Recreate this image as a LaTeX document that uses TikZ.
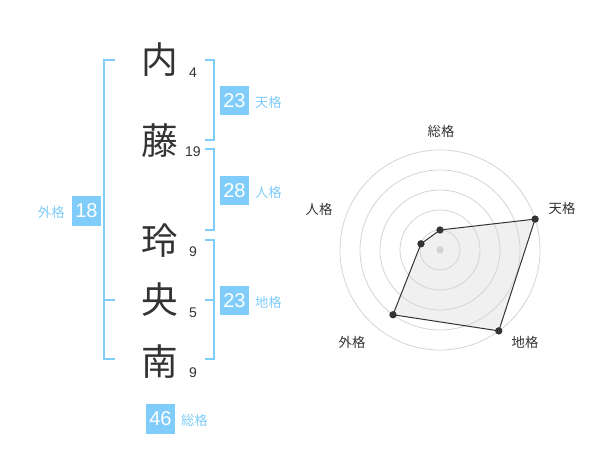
\documentclass[tikz,border=0pt]{standalone}
\usepackage{fontspec}
\setmainfont{Liberation Sans}
\newfontfamily\jp{Noto Sans CJK JP}
\usetikzlibrary{positioning}
\definecolor{kakublue}{RGB}{128,204,250}
\definecolor{inkgray}{RGB}{51,51,51}
\definecolor{ringgray}{RGB}{212,212,212}
\definecolor{areagray}{RGB}{240,240,240}

\begin{document}
\begin{tikzpicture}[x=0.75pt, y=-0.75pt]
    % Define styles
    \tikzstyle{kanji} = [font=\jp\fontsize{27.5}{27.5}\selectfont, text=inkgray, inner sep=0pt]
    \tikzstyle{kakusu} = [font=\fontsize{10.5}{10.5}\selectfont, text=inkgray, inner sep=0pt]
    \tikzstyle{kakubox} = [fill=kakublue, text=white, font=\fontsize{15}{15}\selectfont, minimum width=22pt, minimum height=22pt, inner sep=0pt]
    \tikzstyle{kakulabel} = [font=\jp\fontsize{10}{10}\selectfont, text=kakublue, inner sep=0pt]
    \tikzstyle{bracket} = [draw=kakublue, line width=1.5pt]
    \tikzstyle{ring} = [draw=ringgray, line width=0.6pt]
    \tikzstyle{axislabel} = [font=\jp\fontsize{10}{10}\selectfont, text=inkgray, inner sep=0pt]
    \tikzstyle{dot} = [circle, fill=inkgray, inner sep=0pt, minimum size=5.5pt]

    \useasboundingbox (0,0) rectangle (600,470);

    % Name characters and stroke counts
    \node [kanji] (nai) at (160,60) {内};
    \node [kanji] (fuji) at (160,141) {藤};
    \node [kanji] (rei) at (160,241) {玲};
    \node [kanji] (oh) at (160,300) {央};
    \node [kanji] (nan) at (160,362) {南};

    \node [kakusu] (nainum) at (193,73) {4};
    \node [kakusu] (fujinum) at (193,152) {19};
    \node [kakusu] (reinum) at (193,252) {9};
    \node [kakusu] (ohnum) at (193,313) {5};
    \node [kakusu] (nannum) at (193,373) {9};

    % Brackets
    \draw [bracket] (115,60) -- (104,60) -- (104,359) -- (115,359);
    \draw [bracket] (104,300) -- (115,300);
    \draw [bracket] (205,60) -- (214,60) -- (214,140) -- (205,140);
    \draw [bracket] (205,149) -- (214,149) -- (214,230) -- (205,230);
    \draw [bracket] (205,240) -- (214,240) -- (214,359) -- (205,359);
    \draw [bracket] (214,300) -- (205,300);

    % Score boxes
    \node [kakubox] (tenbox) at (234.5,100.5) {23};
    \node [kakubox] (jinbox) at (234.5,190.5) {28};
    \node [kakubox] (chibox) at (234.5,300.5) {23};
    \node [kakubox] (gaibox) at (86.5,211) {18};
    \node [kakubox] (soubox) at (160.5,419) {46};

    \node [kakulabel, base right=4pt of tenbox] (tenlabel) {天格};
    \node [kakulabel, base right=4pt of jinbox] (jinlabel) {人格};
    \node [kakulabel, base right=4pt of chibox] (chilabel) {地格};
    \node [kakulabel, base left=5pt of gaibox] (gailabel) {外格};
    \node [kakulabel, base right=4pt of soubox] (soulabel) {総格};

    % Radar chart
    \begin{scope}[shift={(440,250)}]
        \coordinate (center) at (0,0);
        \coordinate (sou) at (-90:20);
        \coordinate (ten) at (-18:100);
        \coordinate (chi) at (54:100);
        \coordinate (gai) at (126:80);
        \coordinate (jin) at (198:20);

        \fill [areagray] (sou) -- (ten) -- (chi) -- (gai) -- (jin) -- cycle;
        \draw [ring] (center) circle (20) (center) circle (40) (center) circle (60) (center) circle (80) (center) circle (100);
        \draw [inkgray, line width=0.75pt] (sou) -- (ten) -- (chi) -- (gai) -- (jin) -- cycle;

        \node [circle, fill=ringgray, inner sep=0pt, minimum size=5.5pt] (mid) at (center) {};
        \node [dot] (soudot) at (sou) {};
        \node [dot] (tendot) at (ten) {};
        \node [dot] (chidot) at (chi) {};
        \node [dot] (gaidot) at (gai) {};
        \node [dot] (jindot) at (jin) {};

        \node [axislabel] (souaxis) at (1,-119) {総格};
        \node [axislabel] (tenaxis) at (122,-42) {天格};
        \node [axislabel] (chiaxis) at (85,92) {地格};
        \node [axislabel] (gaiaxis) at (-88,92) {外格};
        \node [axislabel] (jinaxis) at (-121,-41) {人格};
    \end{scope}
\end{tikzpicture}
\end{document}
